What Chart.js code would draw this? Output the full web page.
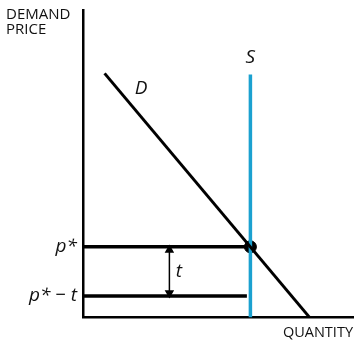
<!DOCTYPE html>
<html>
<head>
<meta charset="utf-8">
<script src="https://cdn.jsdelivr.net/npm/chart.js@4/dist/chart.umd.min.js"></script>
<style>
  html, body { margin: 0; padding: 0; background: #fff; }
  #wrap { width: 355px; height: 341px; }
</style>
</head>
<body>
<div id="wrap"><canvas id="chart"></canvas></div>
<script>
// values (arbitrary units, axes run 0..10)
const demandX = [0.8, 8.4];
const demandY = [7.94, 0];
const supplyX = [6.2, 6.2];
const supplyY = [0, 7.9];
const pStar = 2.3;
const pStarMinusT = 0.7;
const priceLineEnd = [6.2, 6.07];
const arrowX = 3.2;
const arrowY = [2.2, 0.8];
const tickValues = [pStarMinusT, pStar];
const tickLabels = ['p* \u2212 t', 'p*'];
const curveLabels = [
    { text: 'D', x: 2.15, y: 7.45 },
    { text: 'S', x: 6.2, y: 8.45 },
    { text: 't', x: 3.55, y: 1.5 }
];

const pts = (xs, ys) => xs.map((x, i) => ({ x: x, y: ys[i] }));

// text labels for the curves and the price axis caption
const labelPlugin = {
    id: 'labels',
    afterDraw(chart) {
        const ctx = chart.ctx;
        const xs = chart.scales.x, ys = chart.scales.y;
        ctx.save();
        ctx.fillStyle = '#111';
        ctx.textAlign = 'center';
        ctx.textBaseline = 'middle';
        ctx.font = 'italic 19px "Open Sans"';
        curveLabels.forEach(l => {
            ctx.fillText(l.text, xs.getPixelForValue(l.x), ys.getPixelForValue(l.y));
        });
        ctx.font = '15px "Open Sans"';
        ctx.textAlign = 'left';
        ctx.fillText('DEMAND', 6, 15);
        ctx.fillText('PRICE', 6, 30);
        ctx.restore();
    }
};

new Chart(document.querySelector('#chart'), {
    type: 'scatter',
    data: {
        datasets: [
            {
                data: pts(demandX, demandY),
                showLine: true,
                borderColor: '#000',
                borderWidth: 3,
                pointRadius: 0
            },
            {
                data: pts(supplyX, supplyY),
                showLine: true,
                borderColor: '#1ba1d0',
                borderWidth: 3.5,
                pointRadius: 0
            },
            {
                data: [{ x: 0, y: pStar }, { x: priceLineEnd[0], y: pStar }],
                showLine: true,
                borderColor: '#000',
                borderWidth: 3.5,
                pointRadius: 0
            },
            {
                data: [{ x: 0, y: pStarMinusT }, { x: priceLineEnd[1], y: pStarMinusT }],
                showLine: true,
                borderColor: '#000',
                borderWidth: 3.5,
                pointRadius: 0
            },
            {
                data: [{ x: arrowX, y: arrowY[0] }, { x: arrowX, y: arrowY[1] }],
                showLine: true,
                borderColor: '#000',
                borderWidth: 1.5,
                pointStyle: 'triangle',
                pointRadius: 4,
                pointRotation: [0, 180],
                pointBackgroundColor: '#000',
                pointBorderColor: '#000'
            },
            {
                data: [{ x: supplyX[0], y: pStar }],
                pointRadius: 6,
                pointBackgroundColor: '#000',
                pointBorderColor: '#000'
            }
        ]
    },
    options: {
        responsive: true,
        maintainAspectRatio: false,
        animation: false,
        layout: { autoPadding: false, padding: { top: 10, right: 2, left: 0, bottom: 0 } },
        scales: {
            x: {
                min: 0, max: 10,
                grid: { display: false, drawTicks: false },
                border: { display: true, color: '#000', width: 2.5 },
                ticks: { display: false },
                afterFit: s => { s.paddingLeft = 0; s.paddingRight = 0; },
                title: {
                    display: true,
                    text: 'QUANTITY',
                    align: 'end',
                    color: '#111',
                    font: { family: 'Open Sans', size: 14.5 },
                    padding: { top: 7, bottom: -1 }
                }
            },
            y: {
                min: 0, max: 10,
                grid: { display: false, drawTicks: false },
                border: { display: true, color: '#000', width: 2.5 },
                afterBuildTicks: s => { s.ticks = tickValues.map(v => ({ value: v })); },
                afterFit: s => { s.width = 83; s.paddingTop = 0; s.paddingBottom = 0; },
                ticks: {
                    color: '#111',
                    padding: 6,
                    font: { family: 'Open Sans', style: 'italic', size: 19 },
                    callback: (v) => tickLabels[tickValues.indexOf(v)]
                }
            }
        },
        plugins: {
            legend: { display: false },
            tooltip: { enabled: false }
        }
    },
    plugins: [labelPlugin]
});
</script>
</body>
</html>
